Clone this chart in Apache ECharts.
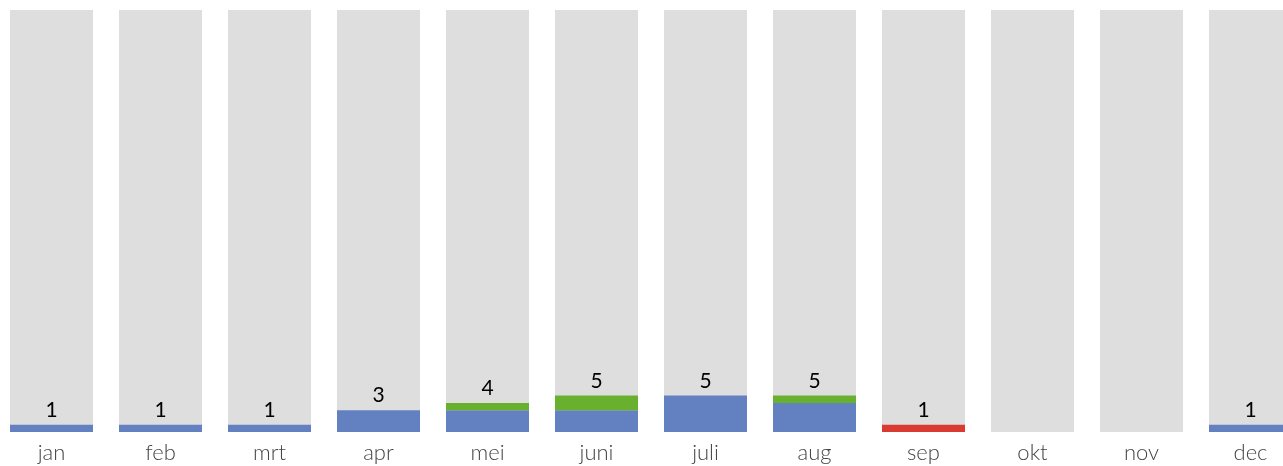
<!DOCTYPE html>
<html><head><meta charset="utf-8">
<script src="https://cdn.jsdelivr.net/npm/echarts@6/dist/echarts.min.js"></script>
<style>html,body{margin:0;padding:0;background:#fff;overflow:hidden;width:1283px;height:466px}#c{position:absolute;left:-3px;top:0;width:1308px;height:466px}</style>
</head><body><div id="c"></div>
<script>
const categories = ['jan','feb','mrt','apr','mei','juni','juli','aug','sep','okt','nov','dec'];
const blueValues = [1,1,1,3,3,3,5,4,0,0,0,1];
const greenValues = [0,0,0,0,1,2,0,1,0,0,0,0];
const redValues = [0,0,0,0,0,0,0,0,1,0,0,0];
const yMax = 58;

const totals = categories.map((_, i) => blueValues[i] + greenValues[i] + redValues[i]);
const chart = echarts.init(document.getElementById('c'));
chart.setOption({
  animation: false,
  grid: { left: 0, top: 10, right: 0, bottom: 34, containLabel: false },
  xAxis: {
    type: 'category', data: categories,
    axisLine: { show: false }, axisTick: { show: false },
    axisLabel: { color: '#444', fontFamily: 'Lato', fontWeight: 300, fontSize: 22, margin: 10 }
  },
  yAxis: { type: 'value', min: 0, max: yMax, show: false, splitLine: { show: false } },
  series: [
    { type: 'bar', data: categories.map(() => yMax), barWidth: 83, barGap: '-100%',
      itemStyle: { color: '#dedede' }, silent: true },
    { type: 'bar', stack: 's', data: blueValues, barWidth: 83, itemStyle: { color: '#6381c1' } },
    { type: 'bar', stack: 's', data: greenValues, barWidth: 83, itemStyle: { color: '#69b02f' } },
    { type: 'bar', stack: 's', data: redValues, barWidth: 83, itemStyle: { color: '#d93a32' } },
    { type: 'bar', stack: 's', data: categories.map(() => 0), barWidth: 83,
      label: { show: true, position: 'top', distance: 4, color: '#000', fontFamily: 'Lato', fontSize: 21,
        formatter: p => totals[p.dataIndex] > 0 ? String(totals[p.dataIndex]) : '' } }
  ]
});
</script></body></html>
